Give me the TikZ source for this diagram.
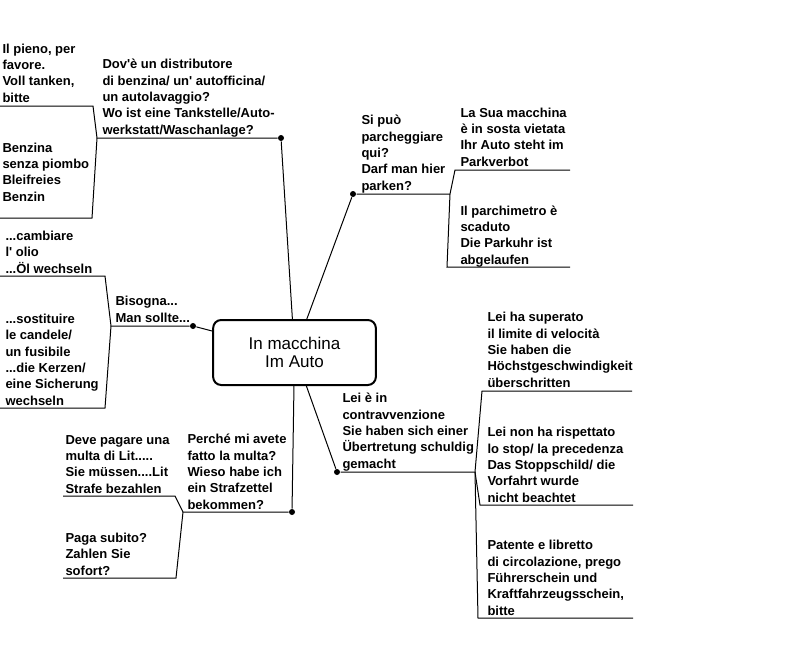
\documentclass[tikz,border=0pt]{standalone}
\usepackage{fontspec}
\setmainfont{Liberation Sans}
\usepackage{tikz}
\usetikzlibrary{positioning, calc}

\begin{document}
\begin{tikzpicture}[x=0.75pt, y=-0.75pt, line width=0.75pt,
    txt/.style={anchor=base west, align=left, inner sep=0pt,
      font=\bfseries\fontsize{9.75pt}{12.2pt}\selectfont},
    dot/.style={circle, fill, inner sep=0pt, minimum size=4.5pt}]
  \def\q{\textquotesingle}
  \useasboundingbox (0,0) rectangle (800,653);
  % centre box
  \node[draw, line width=1.5pt, rounded corners=6pt, minimum width=122pt, minimum height=48.75pt,
        align=center, font=\fontsize{12.75pt}{13.5pt}\selectfont] (auto) at (294.5,352.5)
        {In macchina\\Im Auto};

  % Dov'e un distributore (texts placed at their last baseline)
  \node[dot] (d1) at (281,138) {};
  \coordinate (j1) at (97,138);
  \coordinate (pieno) at (93,106);
  \coordinate (benzina) at (92,218);
  \draw (auto) -- (d1) -- (j1);
  \draw (j1) -- (pieno) -- ++(-93,0);
  \draw (j1) -- (benzina) -- ++(-92,0);
  \node[txt] (dove) at (102,134) {Dov\q è un distributore\\di benzina/ un\q{} autofficina/\\un autolavaggio?\\Wo ist eine Tankstelle/Auto-\\werkstatt/Waschanlage?};
  \node[txt] (pieno-t) at (2,102) {Il pieno, per\\favore.\\Voll tanken,\\bitte};
  \node[txt] (benzina-t) at (2,201) {Benzina\\senza piombo\\Bleifreies\\Benzin};

  % Bisogna
  \node[dot] (d2) at (193,326) {};
  \coordinate (j2) at (111,326);
  \coordinate (olio) at (105,276);
  \coordinate (candele) at (105,408);
  \draw (auto) -- (d2) -- (j2);
  \draw (j2) -- (olio) -- ++(-105,0);
  \draw (j2) -- (candele) -- ++(-105,0);
  \node[txt] (bisogna) at (115,322) {Bisogna...\\Man sollte...};
  \node[txt] (olio-t) at (5,273) {...cambiare\\l\q{} olio\\...Öl wechseln};
  \node[txt] (candele-t) at (5,405) {...sostituire\\le candele/\\un fusibile\\...die Kerzen/\\eine Sicherung\\wechseln};

  % Si puo parcheggiare
  \node[dot] (d3) at (353,194) {};
  \coordinate (j3) at (450,194);
  \coordinate (sosta) at (455,170);
  \coordinate (parkuhr) at (447,267);
  \draw (auto) -- (d3) -- (j3);
  \draw (j3) -- (sosta) -- ++(115,0);
  \draw (j3) -- (parkuhr) -- ++(123,0);
  \node[txt] (parcheggiare) at (361,190) {Si può\\parcheggiare\\qui?\\Darf man hier\\parken?};
  \node[txt] (sosta-t) at (460,166) {La Sua macchina\\è in sosta vietata\\Ihr Auto steht im\\Parkverbot};
  \node[txt] (parkuhr-t) at (460,264) {Il parchimetro è\\scaduto\\Die Parkuhr ist\\abgelaufen};

  % Lei e in contravvenzione
  \node[dot] (d4) at (337,472) {};
  \coordinate (j4) at (475,472);
  \coordinate (limite) at (482,391);
  \coordinate (stop) at (480,505);
  \coordinate (patente) at (478,618);
  \draw (auto) -- (d4) -- (j4);
  \draw (j4) -- (limite) -- ++(150,0);
  \draw (j4) -- (stop) -- ++(153,0);
  \draw (j4) -- (patente) -- ++(155,0);
  \node[txt] (contravv) at (342,468) {Lei è in\\contravvenzione\\Sie haben sich einer\\Übertretung schuldig\\gemacht};
  \node[txt] (limite-t) at (487,387) {Lei ha superato\\il limite di velocità\\Sie haben die\\Höchstgeschwindigkeit\\überschritten};
  \node[txt] (stop-t) at (487,502) {Lei non ha rispettato\\lo stop/ la precedenza\\Das Stoppschild/ die\\Vorfahrt wurde\\nicht beachtet};
  \node[txt] (patente-t) at (487,615) {Patente e libretto\\di circolazione, prego\\Führerschein und\\Kraftfahrzeugsschein,\\bitte};

  % Perche mi avete fatto la multa
  \node[dot] (d5) at (292,512) {};
  \coordinate (j5) at (183,512);
  \coordinate (multa) at (175,496);
  \coordinate (subito) at (176,578);
  \draw (auto) -- (d5) -- (j5);
  \draw (j5) -- (multa) -- ++(-112,0);
  \draw (j5) -- (subito) -- ++(-113,0);
  \node[txt] (perche) at (187,509) {Perché mi avete\\fatto la multa?\\Wieso habe ich\\ein Strafzettel\\bekommen?};
  \node[txt] (multa-t) at (65,493) {Deve pagare una\\multa di Lit.....\\Sie müssen....Lit\\Strafe bezahlen};
  \node[txt] (subito-t) at (65,575) {Paga subito?\\Zahlen Sie\\sofort?};
\end{tikzpicture}
\end{document}
